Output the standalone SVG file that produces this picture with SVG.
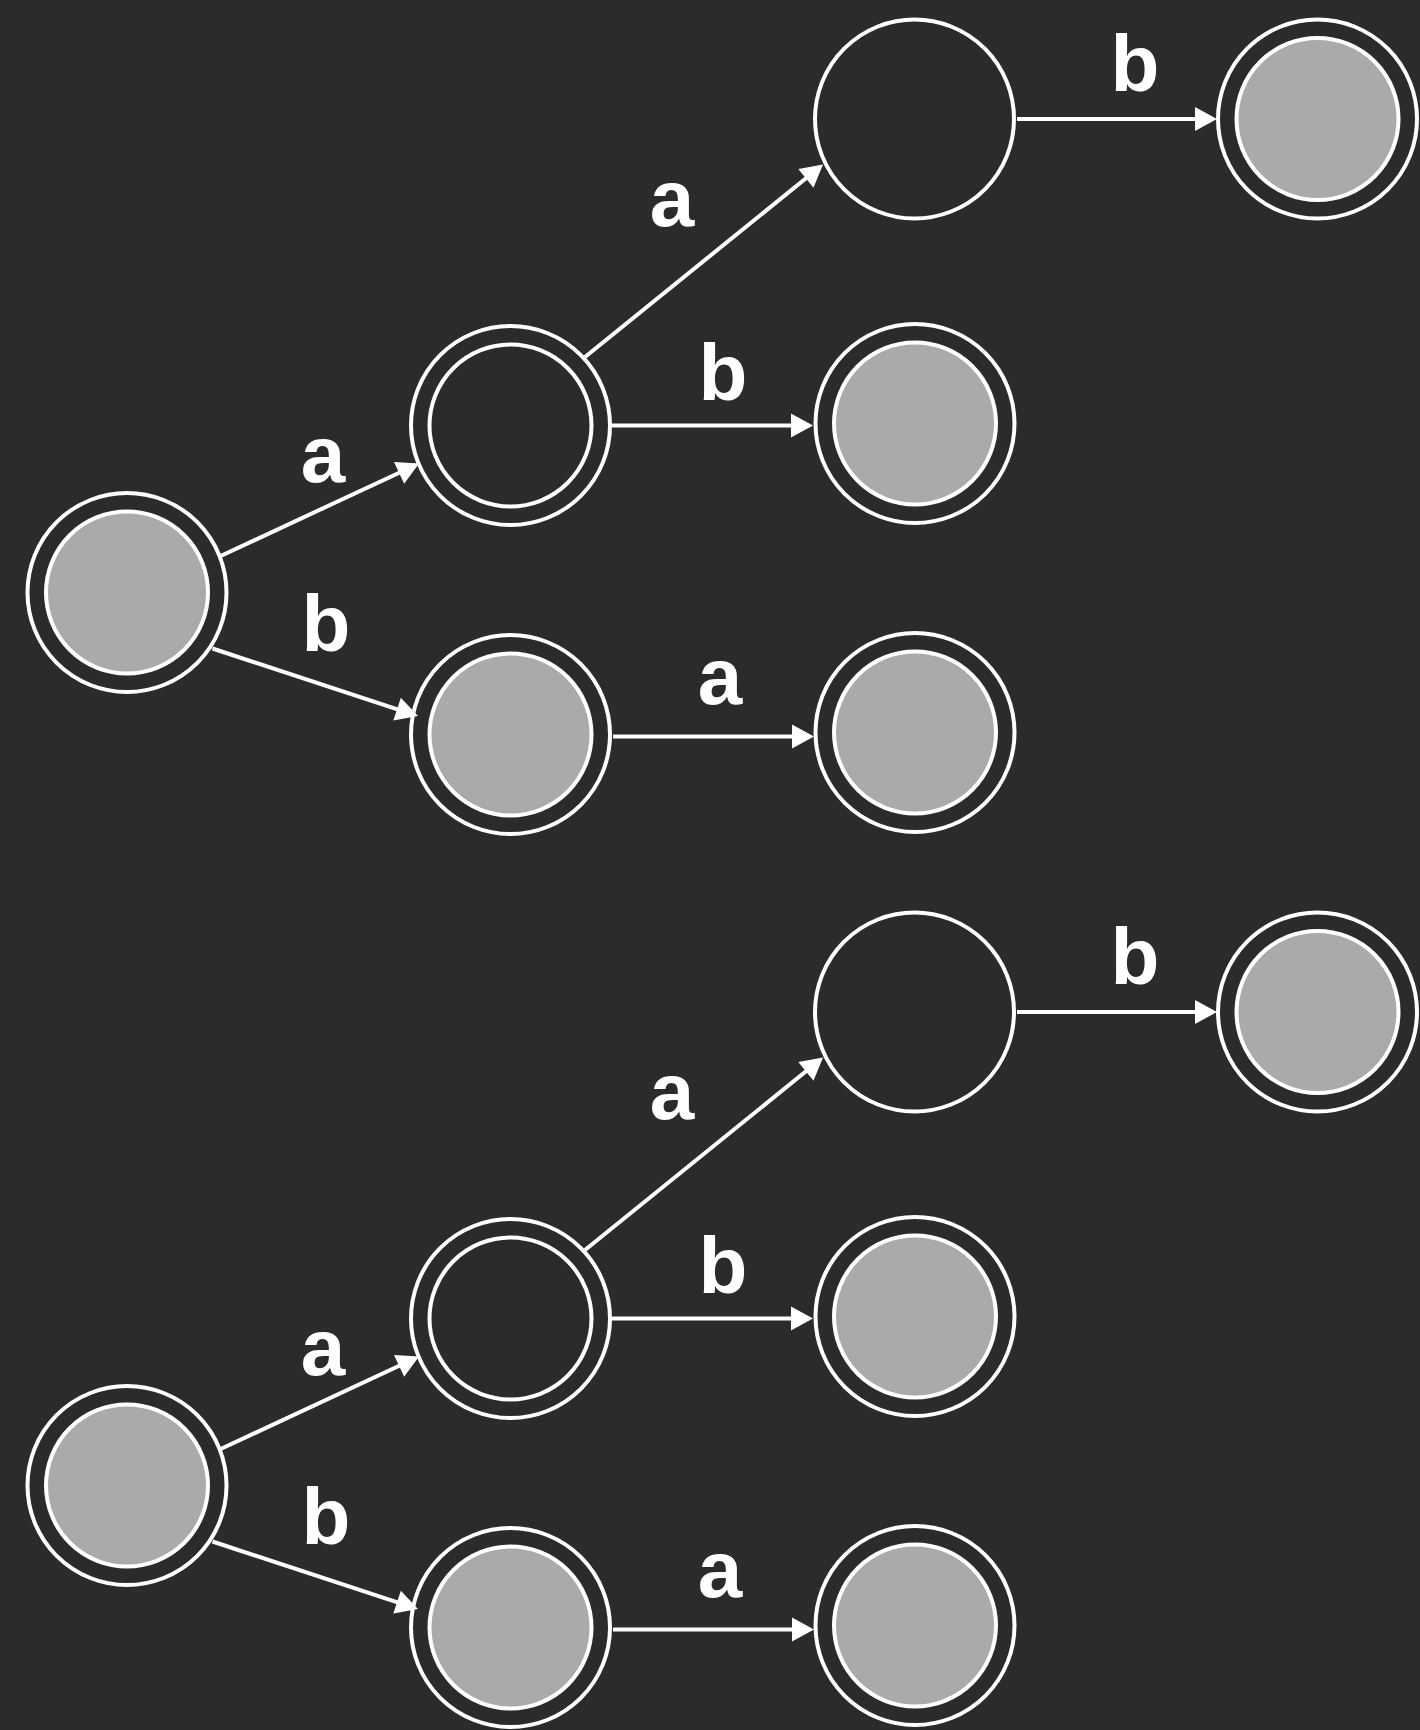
<svg xmlns="http://www.w3.org/2000/svg" width="1420" height="1730" viewBox="0 0 1420 1730">
<defs>
<style>
.ring{fill:none;stroke:#ffffff;stroke-width:4}
.empty{fill:#2b2b2b;stroke:#ffffff;stroke-width:4}
.fill{fill:#aaaaaa;stroke:#ffffff;stroke-width:4}
.edge{fill:none;stroke:#ffffff;stroke-width:4;marker-end:url(#arrow)}
.lbl{font-family:"Liberation Sans",Arial,sans-serif;font-weight:bold;font-size:80px;fill:#ffffff;text-anchor:middle}
</style>
<marker id="arrow" markerUnits="userSpaceOnUse" markerWidth="24" markerHeight="26" refX="18" refY="12" orient="auto" overflow="visible">
<path d="M0,0 L22,12 L0,24 Z" fill="#ffffff"/>
</marker>
</defs>
<rect x="0" y="0" width="1420" height="1730" fill="#2b2b2b"/>

<g id="connectors">
<line class="edge" x1="218.5" y1="557" x2="415.4" y2="465.2"/>
<line class="edge" x1="212.5" y1="648.5" x2="414.2" y2="714.8"/>
<line class="edge" x1="585" y1="357" x2="819.9" y2="167"/>
<line class="edge" x1="1017" y1="119" x2="1213" y2="119"/>
<line class="edge" x1="612" y1="425.5" x2="809" y2="425.5"/>
<line class="edge" x1="613" y1="736.5" x2="810" y2="736.5"/>

<line class="edge" x1="218.5" y1="1450" x2="415.4" y2="1358.2"/>
<line class="edge" x1="212.5" y1="1541.5" x2="414.2" y2="1607.8"/>
<line class="edge" x1="585" y1="1250" x2="819.9" y2="1060"/>
<line class="edge" x1="1017" y1="1012" x2="1213" y2="1012"/>
<line class="edge" x1="612" y1="1318.5" x2="809" y2="1318.5"/>
<line class="edge" x1="613" y1="1629.5" x2="810" y2="1629.5"/>
</g>

<g id="labels">
<text class="lbl" x="323" y="482">a</text>
<text class="lbl" x="326" y="651">b</text>
<text class="lbl" x="672" y="226">a</text>
<text class="lbl" x="1135" y="91">b</text>
<text class="lbl" x="723" y="400">b</text>
<text class="lbl" x="720" y="704">a</text>

<text class="lbl" x="323" y="1375">a</text>
<text class="lbl" x="326" y="1544">b</text>
<text class="lbl" x="672" y="1119">a</text>
<text class="lbl" x="1135" y="984">b</text>
<text class="lbl" x="723" y="1293">b</text>
<text class="lbl" x="720" y="1597">a</text>
</g>

<g id="t-start"><circle class="ring" cx="127" cy="592.5" r="99.5"/><circle class="fill" cx="127" cy="592.5" r="81"/></g>
<g id="t-a"><circle class="ring" cx="510.5" cy="425.5" r="99.5"/><circle class="ring" cx="510.5" cy="425.5" r="81"/></g>
<g id="t-b"><circle class="ring" cx="510.5" cy="734.5" r="99.5"/><circle class="fill" cx="510.5" cy="734.5" r="81"/></g>
<g id="t-aa"><circle class="ring" cx="914.5" cy="119" r="99.5"/></g>
<g id="t-aab"><circle class="ring" cx="1317.5" cy="119" r="99.5"/><circle class="fill" cx="1317.5" cy="119" r="81"/></g>
<g id="t-ab"><circle class="ring" cx="915" cy="423.5" r="99.5"/><circle class="fill" cx="915" cy="423.5" r="81"/></g>
<g id="t-ba"><circle class="ring" cx="915" cy="732.5" r="99.5"/><circle class="fill" cx="915" cy="732.5" r="81"/></g>

<g id="b-start"><circle class="ring" cx="127" cy="1485.5" r="99.5"/><circle class="fill" cx="127" cy="1485.5" r="81"/></g>
<g id="b-a"><circle class="ring" cx="510.5" cy="1318.5" r="99.5"/><circle class="ring" cx="510.5" cy="1318.5" r="81"/></g>
<g id="b-b"><circle class="ring" cx="510.5" cy="1627.5" r="99.5"/><circle class="fill" cx="510.5" cy="1627.5" r="81"/></g>
<g id="b-aa"><circle class="ring" cx="914.5" cy="1012" r="99.5"/></g>
<g id="b-aab"><circle class="ring" cx="1317.5" cy="1012" r="99.5"/><circle class="fill" cx="1317.5" cy="1012" r="81"/></g>
<g id="b-ab"><circle class="ring" cx="915" cy="1316.5" r="99.5"/><circle class="fill" cx="915" cy="1316.5" r="81"/></g>
<g id="b-ba"><circle class="ring" cx="915" cy="1625.5" r="99.5"/><circle class="fill" cx="915" cy="1625.5" r="81"/></g>
</svg>
